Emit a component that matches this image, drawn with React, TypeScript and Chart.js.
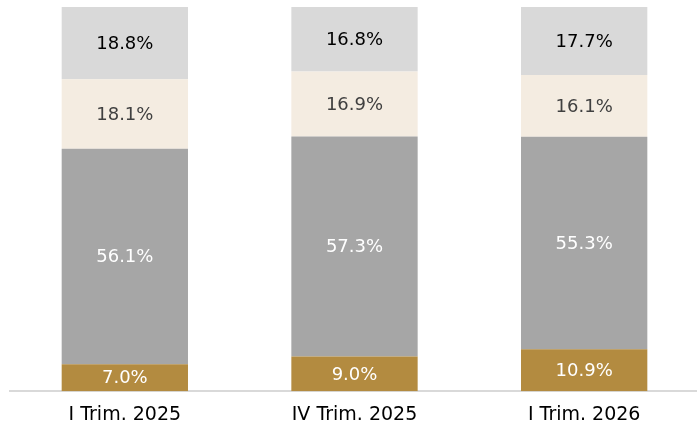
import React, { useEffect, useRef } from "react";
import { Chart, registerables } from "chart.js";

Chart.register(...registerables);

const categories = ["I Trim. 2025", "IV Trim. 2025", "I Trim. 2026"];
const seriesGold = [7.0, 9.0, 10.9];
const seriesGray = [56.1, 57.3, 55.3];
const seriesBeige = [18.1, 16.9, 16.1];
const seriesLight = [18.8, 16.8, 17.7];

const FONT = "'DejaVu Sans', Verdana, sans-serif";

const labelPlugin = {
  id: "segLabels",
  afterDatasetsDraw(chart: any) {
    const ctx = chart.ctx;
    ctx.save();
    ctx.font = `18px ${FONT}`;
    ctx.textAlign = "center";
    ctx.textBaseline = "middle";
    chart.data.datasets.forEach((ds: any, i: number) => {
      const meta = chart.getDatasetMeta(i);
      meta.data.forEach((el: any, j: number) => {
        const v = ds.data[j];
        ctx.fillStyle = ds.labelColor;
        ctx.fillText(v.toFixed(1) + "%", el.x, (el.y + el.base) / 2 + 1);
      });
    });
    ctx.restore();
  },
};

export default function App() {
  const ref = useRef<HTMLCanvasElement>(null);
  useEffect(() => {
    const chart = new Chart(ref.current!, {
      type: "bar",
      data: {
        labels: categories,
        datasets: [
          { data: seriesGold, backgroundColor: "#B38B40", labelColor: "#FFFFFF" } as any,
          { data: seriesGray, backgroundColor: "#A6A6A6", labelColor: "#FFFFFF" } as any,
          { data: seriesBeige, backgroundColor: "#F4ECE1", labelColor: "#404040" } as any,
          { data: seriesLight, backgroundColor: "#D9D9D9", labelColor: "#000000" } as any,
        ],
      },
      options: {
        animation: false,
        responsive: false,
        maintainAspectRatio: false,
        layout: { padding: { top: 7, bottom: 4, left: 10, right: 1 } },
        datasets: { bar: { categoryPercentage: 1, barPercentage: 0.55, borderWidth: 0 } },
        plugins: { legend: { display: false }, tooltip: { enabled: false } },
        scales: {
          x: {
            stacked: true,
            grid: { display: false, drawTicks: false },
            border: { display: true, color: "#D9D9D9", width: 2 },
            ticks: { color: "#000000", padding: 12, font: { family: FONT, size: 19 } },
          },
          y: {
            stacked: true,
            display: false,
            min: 0,
            max: 100,
          },
        },
      },
      plugins: [labelPlugin],
    });
    return () => chart.destroy();
  }, []);
  return (
    <div style={{ position: "fixed", left: 0, top: 0, width: 700, height: 430, overflow: "hidden", background: "#fff" }}>
      <canvas ref={ref} width={700} height={442} style={{ width: 700, height: 442 }} />
    </div>
  );
}
